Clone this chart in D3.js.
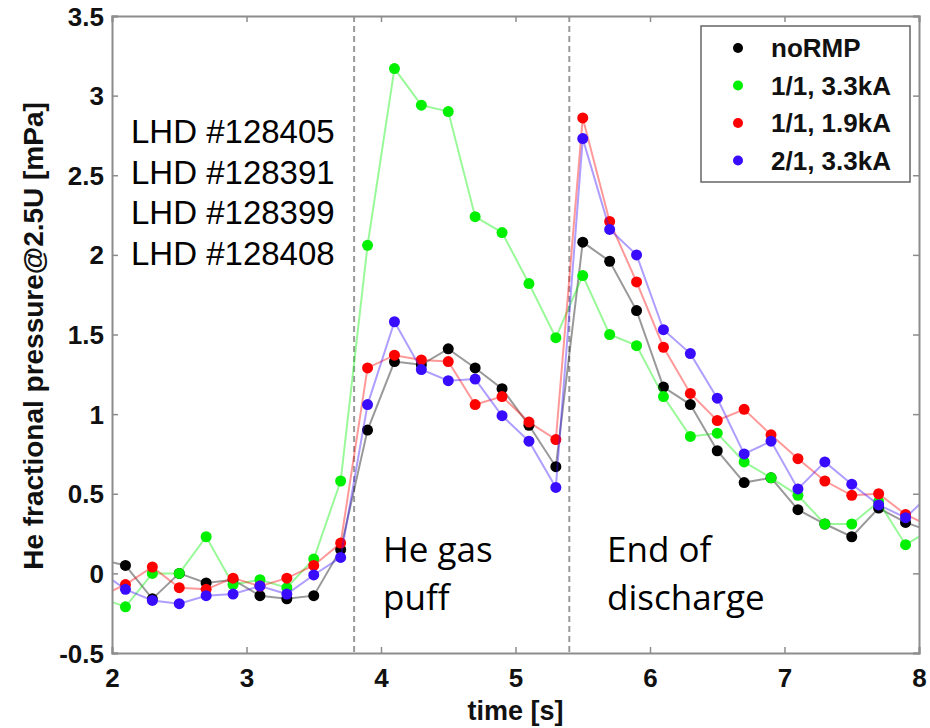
<!DOCTYPE html>
<html>
<head>
<meta charset="utf-8">
<script src="https://cdn.jsdelivr.net/npm/d3@7"></script>
<style>
body { margin: 0; background: #fff; }
</style>
</head>
<body>
<svg width="930" height="728"></svg>
<script>
// sample times [s]; first and last fall just outside the axes and get clipped
var times = [1.9, 2.1, 2.3, 2.5, 2.7, 2.9, 3.1, 3.3, 3.5, 3.7, 3.9, 4.1, 4.3, 4.5, 4.7, 4.9,
	5.1, 5.3, 5.5, 5.7, 5.9, 6.1, 6.3, 6.5, 6.7, 6.9, 7.1, 7.3, 7.5, 7.7, 7.9, 8.1];

var noRMP = [0.09, 0.05, -0.16, 0.0, -0.06, -0.04, -0.14, -0.16, -0.14, 0.15,
	0.90, 1.33, 1.31, 1.41, 1.29, 1.16, 0.93, 0.67,
	2.08, 1.96, 1.65, 1.17, 1.06, 0.77, 0.57, 0.60, 0.40, 0.31, 0.23, 0.41, 0.32, 0.26];
var rmp11_33 = [-0.15, -0.21, 0.0, 0.0, 0.23, -0.07, -0.04, -0.09, 0.09, 0.58,
	2.06, 3.17, 2.94, 2.90, 2.24, 2.14, 1.82, 1.48,
	1.87, 1.50, 1.43, 1.11, 0.86, 0.88, 0.70, 0.60, 0.49, 0.31, 0.31, 0.45, 0.18, 0.28];
var rmp11_19 = [-0.15, -0.07, 0.04, -0.09, -0.10, -0.03, -0.08, -0.03, 0.05, 0.19,
	1.29, 1.37, 1.34, 1.33, 1.06, 1.11, 0.95, 0.84,
	2.86, 2.21, 1.83, 1.42, 1.13, 0.96, 1.03, 0.87, 0.72, 0.58, 0.49, 0.50, 0.37, 0.29];
var rmp21_33 = [0.02, -0.10, -0.17, -0.19, -0.14, -0.13, -0.08, -0.13, -0.01, 0.10,
	1.06, 1.58, 1.28, 1.21, 1.22, 0.99, 0.83, 0.54,
	2.73, 2.16, 2.00, 1.53, 1.38, 1.10, 0.75, 0.83, 0.53, 0.70, 0.56, 0.43, 0.35, 0.51];

var seriesNames = ["noRMP", "1/1, 3.3kA", "1/1, 1.9kA", "2/1, 3.3kA"];
var seriesValues = [noRMP, rmp11_33, rmp11_19, rmp21_33];
var seriesColors = ["#000000", "#00f000", "#ff0000", "#3a0cff"];

var xTicks = [2, 3, 4, 5, 6, 7, 8];
var yTicks = [-0.5, 0, 0.5, 1, 1.5, 2, 2.5, 3, 3.5];
var eventTimes = [3.8, 5.4];
var shotLabels = ["LHD #128405", "LHD #128391", "LHD #128399", "LHD #128408"];

var plotL = 112, plotR = 919, plotT = 16, plotB = 653;
var axisColor = "#8c8c8c";

var x = d3.scaleLinear().domain([2, 8]).range([plotL, plotR]);
var y = d3.scaleLinear().domain([-0.5, 3.5]).range([plotB, plotT]);

var svg = d3.select("svg");

svg.append("defs")
	.append("clipPath")
	.attr("id", "plot-clip")
	.append("rect")
	.attr("x", plotL)
	.attr("y", plotT)
	.attr("width", plotR - plotL)
	.attr("height", plotB - plotT);

// dashed event markers
svg.selectAll(".event")
	.data(eventTimes)
	.enter()
	.append("line")
	.attr("class", "event")
	.attr("x1", d => x(d))
	.attr("x2", d => x(d))
	.attr("y1", plotT)
	.attr("y2", plotB)
	.attr("stroke", "#9a9a9a")
	.attr("stroke-width", 2)
	.attr("stroke-dasharray", "6,4");

// series
var plot = svg.append("g").attr("clip-path", "url(#plot-clip)");

var line = d3.line()
	.x((d, i) => x(times[i]))
	.y(d => y(d));

seriesValues.forEach(function(vals, k) {
	var g = plot.append("g").attr("class", "series");
	g.append("path")
		.datum(vals)
		.attr("d", line)
		.attr("fill", "none")
		.attr("stroke", seriesColors[k])
		.attr("stroke-opacity", 0.4)
		.attr("stroke-width", 2);
	g.selectAll("circle")
		.data(vals)
		.enter()
		.append("circle")
		.attr("cx", (d, i) => x(times[i]))
		.attr("cy", d => y(d))
		.attr("r", 5.5)
		.attr("fill", seriesColors[k]);
});

// axes box
var xAxisB = d3.axisBottom(x).tickValues(xTicks).tickSize(-6).tickPadding(12).tickFormat(d => d);
var xAxisT = d3.axisTop(x).tickValues(xTicks).tickSize(-6).tickFormat("");
var yAxisL = d3.axisLeft(y).tickValues(yTicks).tickSize(-6).tickPadding(8).tickFormat(d => d);
var yAxisR = d3.axisRight(y).tickValues(yTicks).tickSize(-6).tickFormat("");

var gxB = svg.append("g").attr("transform", "translate(0," + plotB + ")").call(xAxisB);
var gxT = svg.append("g").attr("transform", "translate(0," + plotT + ")").call(xAxisT);
var gyL = svg.append("g").attr("transform", "translate(" + plotL + ",0)").call(yAxisL);
var gyR = svg.append("g").attr("transform", "translate(" + plotR + ",0)").call(yAxisR);

[gxB, gxT, gyL, gyR].forEach(function(g) {
	g.select(".domain").attr("stroke", axisColor).attr("stroke-width", 2);
	g.selectAll(".tick line").attr("stroke", axisColor).attr("stroke-width", 1.5);
	g.selectAll(".tick text")
		.attr("fill", "#111")
		.style("font-family", "'Liberation Sans', Arial, sans-serif")
		.style("font-weight", "bold")
		.style("font-size", "26px");
});
gxB.selectAll(".tick text").attr("dy", "0.85em");
gyL.selectAll(".tick text").attr("dy", "0.35em");

// axis titles
svg.append("text")
	.attr("x", (plotL + plotR) / 2)
	.attr("y", 720)
	.attr("text-anchor", "middle")
	.style("font-family", "'Liberation Sans', Arial, sans-serif")
	.style("font-weight", "bold")
	.style("font-size", "27px")
	.attr("fill", "#111")
	.text("time [s]");

svg.append("text")
	.attr("transform", "translate(43,336) rotate(-90)")
	.attr("text-anchor", "middle")
	.style("font-family", "'Liberation Sans', Arial, sans-serif")
	.style("font-weight", "bold")
	.style("font-size", "28px")
	.attr("fill", "#111")
	.text("He fractional pressure@2.5U [mPa]");

// shot numbers
svg.selectAll(".shot")
	.data(shotLabels)
	.enter()
	.append("text")
	.attr("class", "shot")
	.attr("x", 131)
	.attr("y", (d, i) => 143 + i * 40.5)
	.style("font-family", "'Liberation Sans', Arial, sans-serif")
	.style("font-size", "33px")
	.attr("fill", "#000")
	.text(d => d);

// event annotations
var notes = [
	{ x: 383, lines: ["He gas", "puff"] },
	{ x: 607, lines: ["End of", "discharge"] }
];
notes.forEach(function(n) {
	n.lines.forEach(function(t, i) {
		svg.append("text")
			.attr("x", n.x)
			.attr("y", 562 + i * 48)
			.style("font-family", "'Open Sans', sans-serif")
			.style("font-size", "35px")
			.attr("fill", "#000")
			.text(t);
	});
});

// legend
var legend = svg.append("g").attr("class", "legend");
legend.append("rect")
	.attr("x", 701)
	.attr("y", 26)
	.attr("width", 209)
	.attr("height", 156)
	.attr("fill", "#fff")
	.attr("stroke", "#666")
	.attr("stroke-width", 1.5);

var item = legend.selectAll(".item")
	.data(seriesNames)
	.enter()
	.append("g")
	.attr("class", "item")
	.attr("transform", (d, i) => "translate(0," + (48 + i * 37.5) + ")");

item.append("circle")
	.attr("cx", 738)
	.attr("cy", 0)
	.attr("r", 5)
	.attr("fill", (d, i) => seriesColors[i]);

item.append("text")
	.attr("x", 771)
	.attr("y", 9)
	.style("font-family", "'Liberation Sans', Arial, sans-serif")
	.style("font-weight", "bold")
	.style("font-size", "26px")
	.attr("fill", "#111")
	.text(d => d);
</script>
</body>
</html>
